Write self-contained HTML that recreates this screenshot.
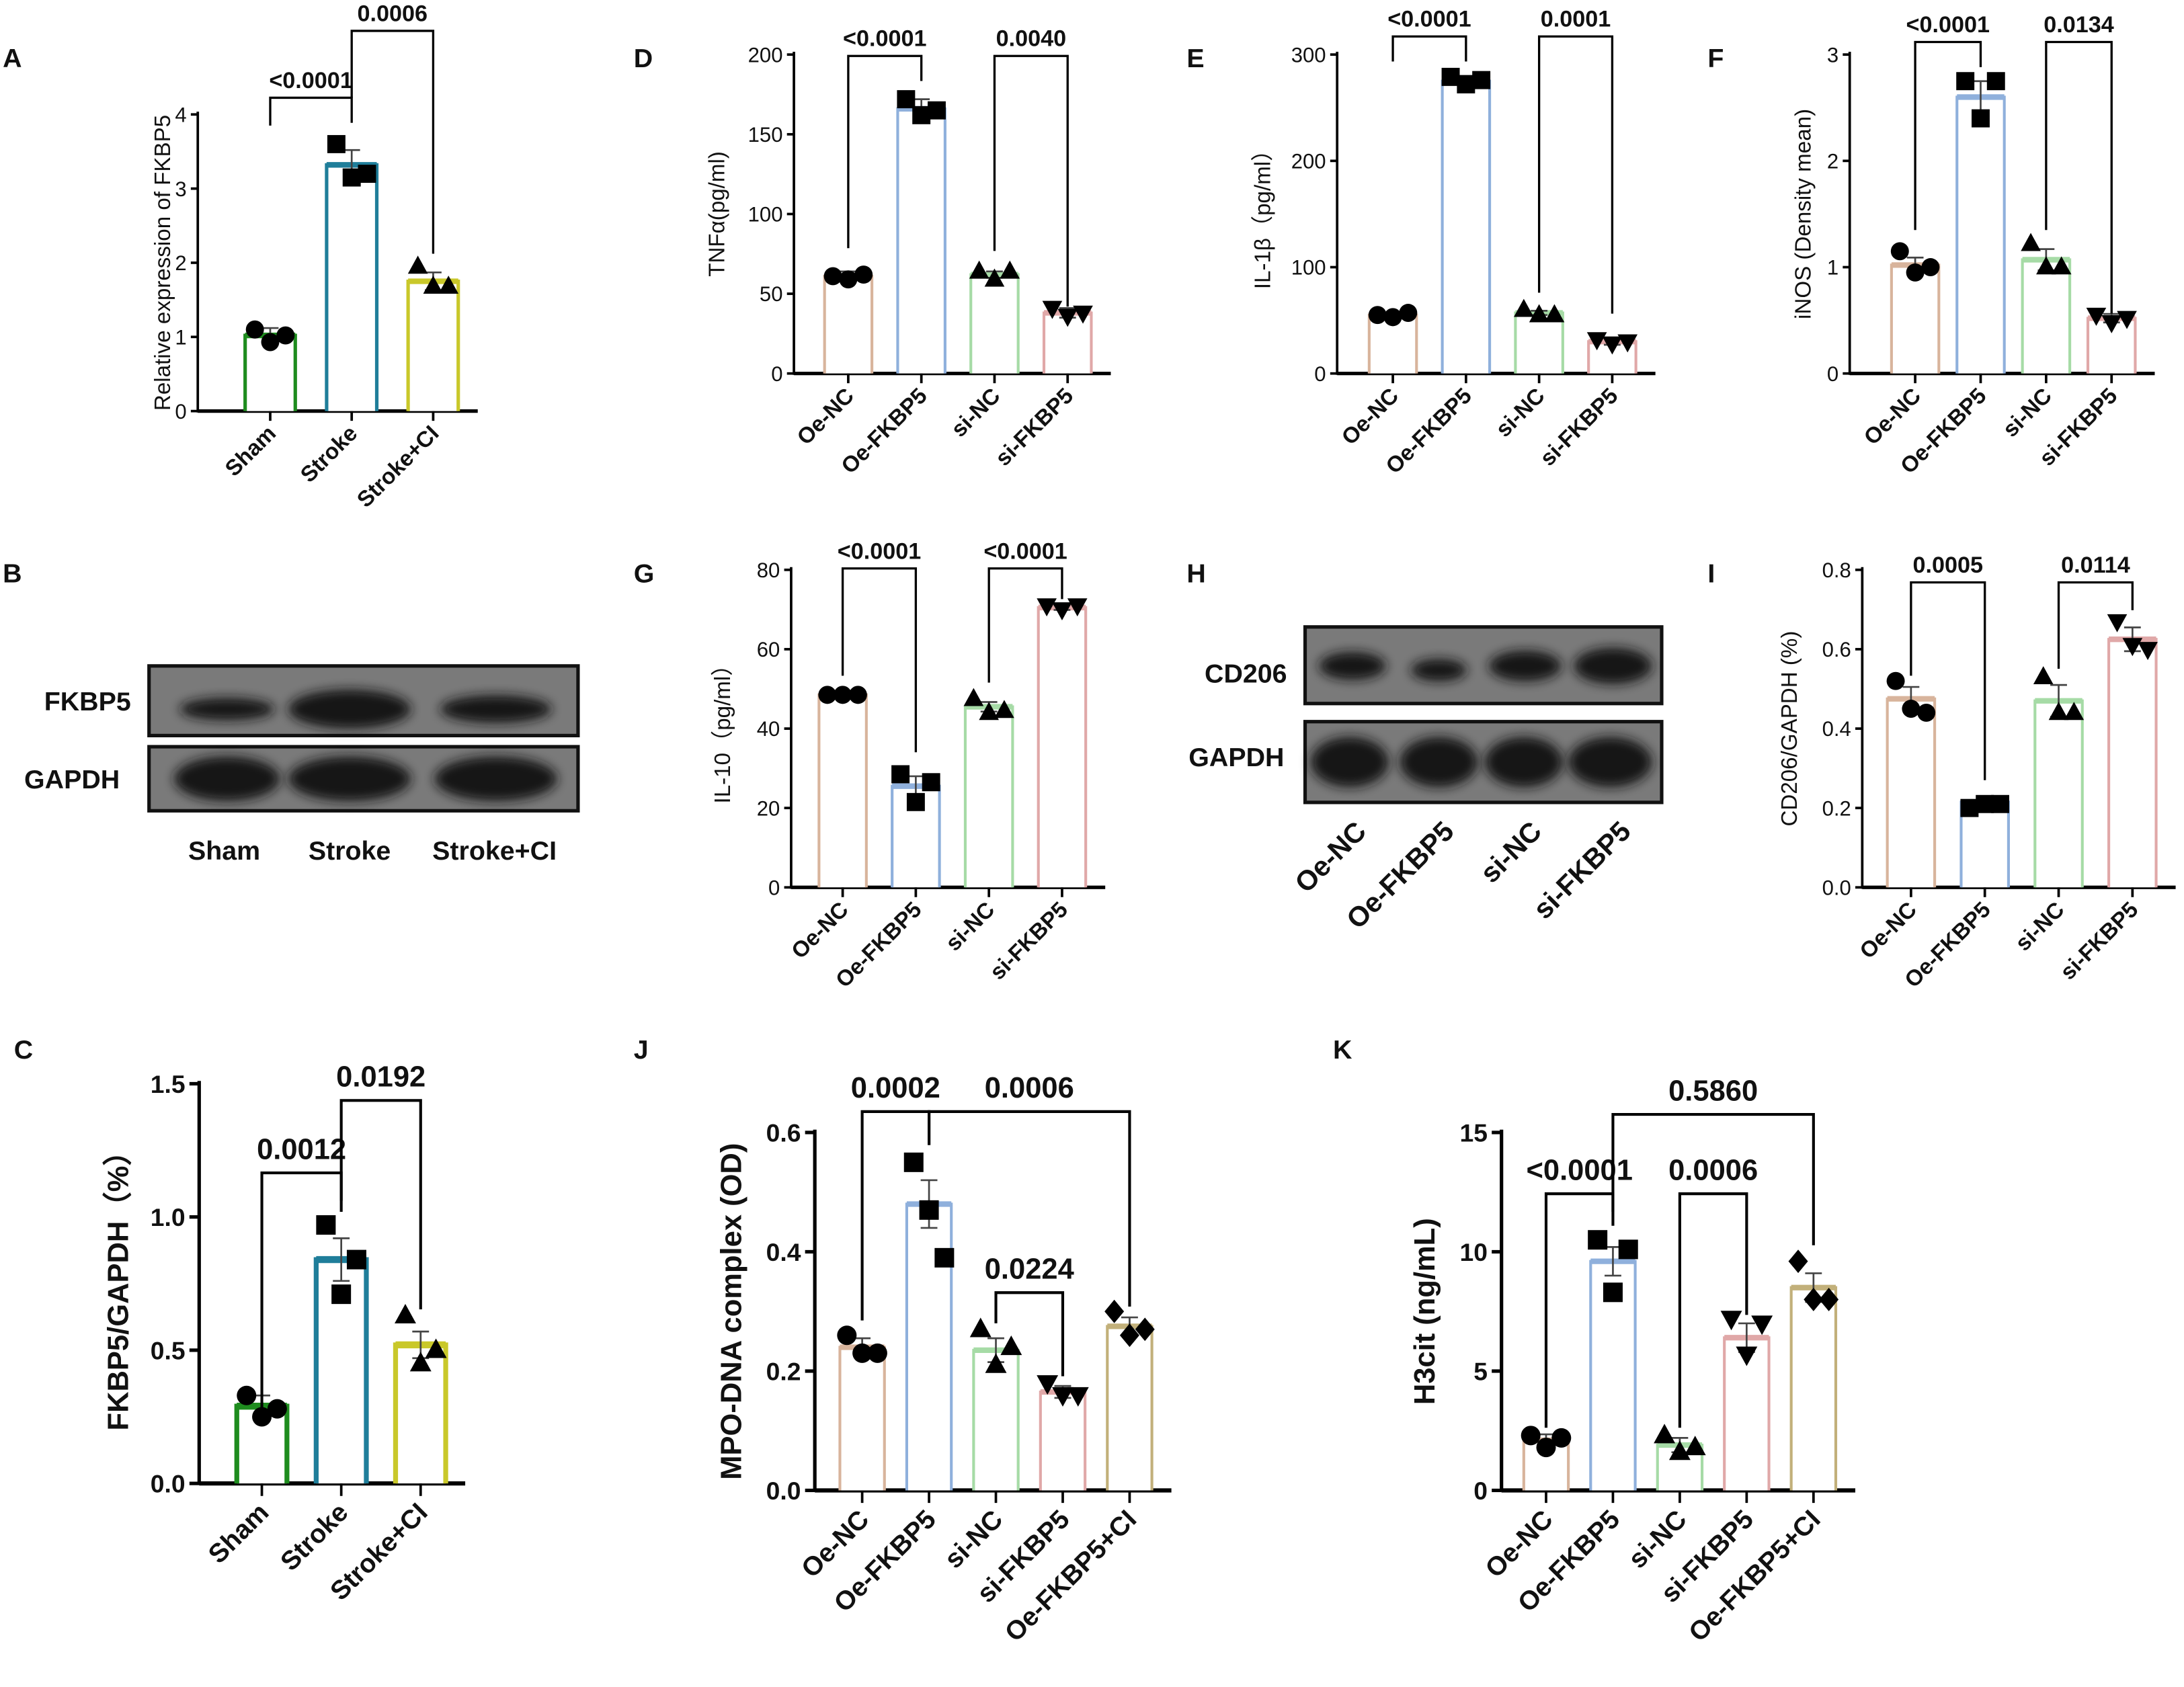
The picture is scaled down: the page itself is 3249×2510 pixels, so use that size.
<!DOCTYPE html>
<html><head><meta charset="utf-8"><style>
html,body{margin:0;padding:0;background:#fff}
svg{display:block}
text{font-family:"Liberation Sans",Arial,sans-serif;fill:#111}
</style></head><body>
<svg id="fig" width="3249" height="2510" viewBox="0 0 1568 1211" xmlns="http://www.w3.org/2000/svg">
<defs>
<filter id="blur" x="-20%" y="-50%" width="140%" height="200%"><feGaussianBlur stdDeviation="4"/></filter>
</defs>
<g id="root"></g>
</svg>
<script>
// ---- Data ----
const catsA=["Sham","Stroke","Stroke+CI"];
const valsA=[1.02,3.32,1.75];
const semA=[0.1,0.2,0.12];
const ptsA=[[1.1,0.93,1.02],[3.6,3.15,3.2],[1.95,1.68,1.68]];
const catsD=["Oe-NC","Oe-FKBP5","si-NC","si-FKBP5"];
const valsD=[61,166,62,38];
const semD=[3,6,2,3];
const ptsD=[[61,59,62],[172,162,165],[64,59,64],[41,36,38]];
const valsE=[55,275,57,30];
const semE=[2,5,2,3];
const ptsE=[[55,53,57],[279,272,276],[60,55,55],[32,28,30]];
const valsF=[1.02,2.6,1.07,0.52];
const semF=[0.07,0.15,0.1,0.04];
const ptsF=[[1.15,0.95,1.0],[2.75,2.4,2.75],[1.22,1.0,1.0],[0.55,0.48,0.52]];
const valsG=[48.5,25.5,45.5,70.5];
const semG=[0.3,2.5,1.2,0.6];
const ptsG=[[48.5,48.5,48.5],[28.5,21.5,26.5],[47.5,44,44.5],[71,70,71]];
const valsI=[0.475,0.215,0.47,0.625];
const semI=[0.03,0.015,0.04,0.03];
const ptsI=[[0.52,0.45,0.44],[0.2,0.21,0.21],[0.53,0.44,0.44],[0.67,0.61,0.6]];
const valsC=[0.29,0.84,0.52];
const semC=[0.04,0.08,0.05];
const ptsC=[[0.33,0.25,0.28],[0.97,0.71,0.84],[0.63,0.45,0.5]];
const catsJ=["Oe-NC","Oe-FKBP5","si-NC","si-FKBP5","Oe-FKBP5+CI"];
const valsJ=[0.24,0.48,0.235,0.165,0.275];
const semJ=[0.015,0.04,0.02,0.01,0.015];
const ptsJ=[[0.26,0.23,0.23],[0.55,0.47,0.39],[0.27,0.21,0.24],[0.18,0.16,0.16],[0.3,0.26,0.27]];
const valsK=[2.1,9.6,1.9,6.4,8.5];
const semK=[0.25,0.6,0.3,0.6,0.6];
const ptsK=[[2.3,1.8,2.2],[10.5,8.3,10.1],[2.3,1.6,1.8],[7.2,5.7,7.0],[9.6,8.0,8.0]];
const ticksA=[0,1,2,3,4], ticksD=[0,50,100,150,200], ticksE=[0,100,200,300], ticksF=[0,1,2,3];
const ticksG=[0,20,40,60,80], ticksI=[0,0.2,0.4,0.6,0.8], ticksC=[0,0.5,1.0,1.5];
const ticksJ=[0,0.2,0.4,0.6], ticksK=[0,5,10,15];

const NS="http://www.w3.org/2000/svg";
const root=document.getElementById('root');
function el(tag,attrs,parent,txt){const e=document.createElementNS(NS,tag);for(const k in attrs)e.setAttribute(k,attrs[k]);if(txt!==undefined)e.textContent=txt;(parent||root).appendChild(e);return e;}
function marker(g,shape,x,y,r){
  let m;
  if(shape==='c')m=el('circle',{cx:x,cy:y,r:r,fill:'#000'},g);
  else if(shape==='s')m=el('rect',{x:x-r,y:y-r,width:2*r,height:2*r,fill:'#000'},g);
  else if(shape==='u')m=el('polygon',{points:`${x},${y-r*1.2} ${x-r*1.1},${y+r*0.8} ${x+r*1.1},${y+r*0.8}`,fill:'#000'},g);
  else if(shape==='d')m=el('polygon',{points:`${x},${y+r*1.2} ${x-r*1.1},${y-r*0.8} ${x+r*1.1},${y-r*0.8}`,fill:'#000'},g);
  else m=el('polygon',{points:`${x},${y-r*1.2} ${x-r},${y} ${x},${y+r*1.2} ${x+r},${y}`,fill:'#000'},g);
  
  
}
function panel(p){
  const g=el('g',{},root);
  
  
  const ys=v=>p.y0-(v-p.min)/(p.max-p.min)*(p.y0-p.y1);
  const xs=i=>p.x0+i*p.step;
  const big=p.big;
  const fs=big?18:15, tl=big?7:5;
  const ax=el('line',{x1:p.ax,y1:p.y0+1,x2:p.ax,y2:p.y1-2,stroke:'#000','stroke-width':big?2.5:1.8},g);
  
  p.ticks.forEach(t=>{
    el('line',{x1:p.ax-tl,y1:ys(t),x2:p.ax,y2:ys(t),stroke:'#000','stroke-width':big?2.5:1.8},g);
    const tx=el('text',{x:p.ax-tl-3,y:ys(t)+fs*0.36,'text-anchor':'end','font-size':fs,'font-weight':big?'bold':'normal'},g,p.fmt?p.fmt(t):String(t));
    
  });
  const xe=xs(p.vals.length-1)+p.bw/2+14;
  const xa=el('line',{x1:p.ax,y1:p.y0,x2:xe,y2:p.y0,stroke:'#000','stroke-width':big?3:2.5},g);
  
  const yt=el('text',{x:p.ytx,y:(p.y0+p.y1)/2,'text-anchor':'middle','font-size':big?21:16,'font-weight':big?'bold':'normal',transform:`rotate(-90 ${p.ytx} ${(p.y0+p.y1)/2})`},g,p.ytitle);
  
  const shapes=p.shapes||['c','s','u','d','x'];
  p.vals.forEach((v,i)=>{
    const cx=xs(i),top=ys(v),c=p.colors[i];
    const b=el('path',{d:`M${cx-p.bw/2},${p.y0} V${top} H${cx+p.bw/2} V${p.y0}`,fill:'#fff',stroke:c,'stroke-width':p.sw||2},g);
    
    el('line',{x1:cx-p.bw/2,y1:top,x2:cx+p.bw/2,y2:top,stroke:c,'stroke-width':p.tw||4},g);
    el('line',{x1:cx,y1:p.y0,x2:cx,y2:p.y0+(big?9:7),stroke:'#000','stroke-width':1.8},g);
    const e1=ys(v+p.sem[i]),e2=ys(v-p.sem[i]);
    el('line',{x1:cx,y1:e1,x2:cx,y2:e2,stroke:'#444','stroke-width':1.3},g);
    el('line',{x1:cx-6,y1:e1,x2:cx+6,y2:e1,stroke:'#444','stroke-width':1.3},g);
    el('line',{x1:cx-6,y1:e2,x2:cx+6,y2:e2,stroke:'#444','stroke-width':1.3},g);
    const offs=[-11,0,11];
    p.pts[i].forEach((pv,j)=>marker(g,shapes[i],cx+offs[j],ys(pv),big?7:6.5));
    const lx=cx+(big?6:5),ly=p.y0+(big?22:17);
    const xl=el('text',{x:lx,y:ly,'text-anchor':'end','font-size':big?19:16,'font-weight':'bold',transform:`rotate(-45 ${lx} ${ly})`},g,p.cats[i]);
    
  });
  (p.brackets||[]).forEach(br=>{
    const xa1=xs(br[0]),xb=xs(br[1]),by=br[2],ly1=br[3],ly2=br[4];
    const bl=el('path',{d:`M${xa1},${ly1} V${by} H${xb} V${ly2}`,fill:'none',stroke:'#000','stroke-width':big?2:1.6},g);
    
    const t=el('text',{x:(xa1+xb)/2,y:by-(big?10:7),'text-anchor':'middle','font-size':big?21:16.5,'font-weight':'bold'},g,br[5]);
    
  });
}
function letter(t,x,y){const e=el('text',{x:x,y:y,'font-size':19,'font-weight':'bold'},root,t);}
const C4=['#d8b49c','#8fb0dc','#a6dba6','#e0a8a8'];
const C5=['#d8b49c','#8fb0dc','#a6dba6','#e0a8a8','#c2b07a'];
const C3=['#1e8c1e','#1f7e9a','#c9c82a'];

panel({name:'panel-a-chart',cats:catsA,vals:valsA,sem:semA,pts:ptsA,ticks:ticksA,min:0,max:4,y0:295,y1:82,ax:142,x0:194,step:58.5,bw:36,colors:C3,sw:2.5,tw:4,ytx:122,ytitle:'Relative expression of FKBP5',
  brackets:[[0,1,70,90,88,'<0.0001'],[1,2,22,70,182,'0.0006']]});
panel({name:'panel-d-chart',cats:catsD,vals:valsD,sem:semD,pts:ptsD,ticks:ticksD,min:0,max:200,y0:268,y1:39,ax:570,x0:609,step:52.5,bw:34,colors:C4,ytx:520,ytitle:'TNFα(pg/ml)',
  brackets:[[0,1,40,178,58,'<0.0001'],[2,3,40,180,220,'0.0040']]});
panel({name:'panel-e-chart',cats:catsD,vals:valsE,sem:semE,pts:ptsE,ticks:ticksE,min:0,max:300,y0:268,y1:39,ax:960,x0:1000,step:52.5,bw:34,colors:C4,ytx:912,ytitle:'IL-1β（pg/ml）',
  brackets:[[0,1,26,44,44,'<0.0001'],[2,3,26,210,225,'0.0001']]});
panel({name:'panel-f-chart',cats:catsD,vals:valsF,sem:semF,pts:ptsF,ticks:ticksF,min:0,max:3,y0:268,y1:39,ax:1328,x0:1375,step:47,bw:34,colors:C4,ytx:1300,ytitle:'iNOS (Density mean)',
  brackets:[[0,1,30,165,48,'<0.0001'],[2,3,30,165,225,'0.0134']]});
panel({name:'panel-g-chart',cats:catsD,vals:valsG,sem:semG,pts:ptsG,ticks:ticksG,min:0,max:80,y0:637,y1:409,ax:568,x0:605,step:52.5,bw:34,colors:C4,ytx:524,ytitle:'IL-10（pg/ml）',
  brackets:[[0,1,408,485,540,'<0.0001'],[2,3,408,490,430,'<0.0001']]});
panel({name:'panel-i-chart',cats:catsD,vals:valsI,sem:semI,pts:ptsI,ticks:ticksI,min:0,max:0.8,y0:637,y1:409,ax:1337,x0:1372,step:53,bw:34,colors:C4,ytx:1290,ytitle:'CD206/GAPDH (%)',fmt:t=>t.toFixed(1),
  brackets:[[0,1,418,485,560,'0.0005'],[2,3,418,480,438,'0.0114']]});
panel({name:'panel-c-chart',big:true,cats:catsA,vals:valsC,sem:semC,pts:ptsC,ticks:ticksC,min:0,max:1.5,y0:1065,y1:778,ax:143,x0:188,step:57,bw:36,colors:C3,sw:3.5,tw:5,ytx:92,ytitle:'FKBP5/GAPDH（%）',fmt:t=>t.toFixed(1),
  brackets:[[0,1,842,1020,870,'0.0012'],[1,2,790,862,940,'0.0192']]});
panel({name:'panel-j-chart',big:true,cats:catsJ,vals:valsJ,sem:semJ,pts:ptsJ,ticks:ticksJ,min:0,max:0.6,y0:1070,y1:813,ax:585,x0:619,step:48,bw:32,colors:C5,sw:2,tw:4,ytx:532,ytitle:'MPO-DNA complex (OD)',fmt:t=>t.toFixed(1),
  brackets:[[0,1,798,948,822,'0.0002'],[1,4,798,822,938,'0.0006'],[2,3,928,950,988,'0.0224']]});
panel({name:'panel-k-chart',big:true,cats:catsJ,vals:valsK,sem:semK,pts:ptsK,ticks:ticksK,min:0,max:15,y0:1070,y1:813,ax:1078,x0:1110,step:48,bw:32,colors:C5,sw:2,tw:4,ytx:1030,ytitle:'H3cit (ng/mL)',
  brackets:[[0,1,857,1025,880,'<0.0001'],[2,3,857,1025,944,'0.0006'],[1,4,800,870,894,'0.5860']]});

letter('A',2,48);letter('D',455,48);letter('E',852,48);letter('F',1226,48);
letter('B',2,418);letter('G',455,418);letter('H',852,418);letter('I',1226,418);
letter('C',10,760);letter('J',455,760);letter('K',957,760);

function blot(name,x,y,w,h,bands){
  const g=el('g',{},root);
  
  
  el('rect',{x:x,y:y,width:w,height:h,fill:'#7a7a7a',stroke:'#111','stroke-width':2.5},g);
  bands.forEach(b=>{el('ellipse',{cx:b[0],cy:b[1],rx:b[2],ry:b[3],fill:'#151515',filter:'url(#blur)'},g);});
}
blot('fkbp5-blot',107,478,308,50,[[163,509,34,8],[251,509,44,14],[356,509,40,10]]);
blot('gapdh-blot-b',107,536,308,46,[[163,559,38,16],[251,559,44,16],[356,559,44,16]]);
blot('cd206-blot',937,450,256,55,[[971,478,24,10],[1033,481,20,8],[1095,478,26,11],[1158,478,28,13]]);
blot('gapdh-blot-h',937,518,256,58,[[969,547,28,18],[1033,547,28,18],[1094,547,28,18],[1156,547,30,18]]);
function lab(t,x,y,anchor,rot,name,fsz){const attrs={x:x,y:y,'text-anchor':anchor,'font-size':fsz||19,'font-weight':'bold'};if(rot)attrs.transform=`rotate(-45 ${x} ${y})`;const e=el('text',attrs,root,t);}
lab('FKBP5',94,510,'end',false,'blot-label-fkbp5');
lab('GAPDH',86,566,'end',false,'blot-label-gapdh');
lab('Sham',161,617,'middle',false,'lane-label-sham');
lab('Stroke',251,617,'middle',false,'lane-label-stroke');
lab('Stroke+CI',355,617,'middle',false,'lane-label-stroke-ci');
lab('CD206',924,490,'end',false,'blot-label-cd206');
lab('GAPDH',922,550,'end',false,'blot-label-gapdh-h');
[['Oe-NC',982],['Oe-FKBP5',1045],['si-NC',1108],['si-FKBP5',1172]].forEach(a=>lab(a[0],a[1],598,'end',true,'lane-label',20));
</script>
</body></html>
